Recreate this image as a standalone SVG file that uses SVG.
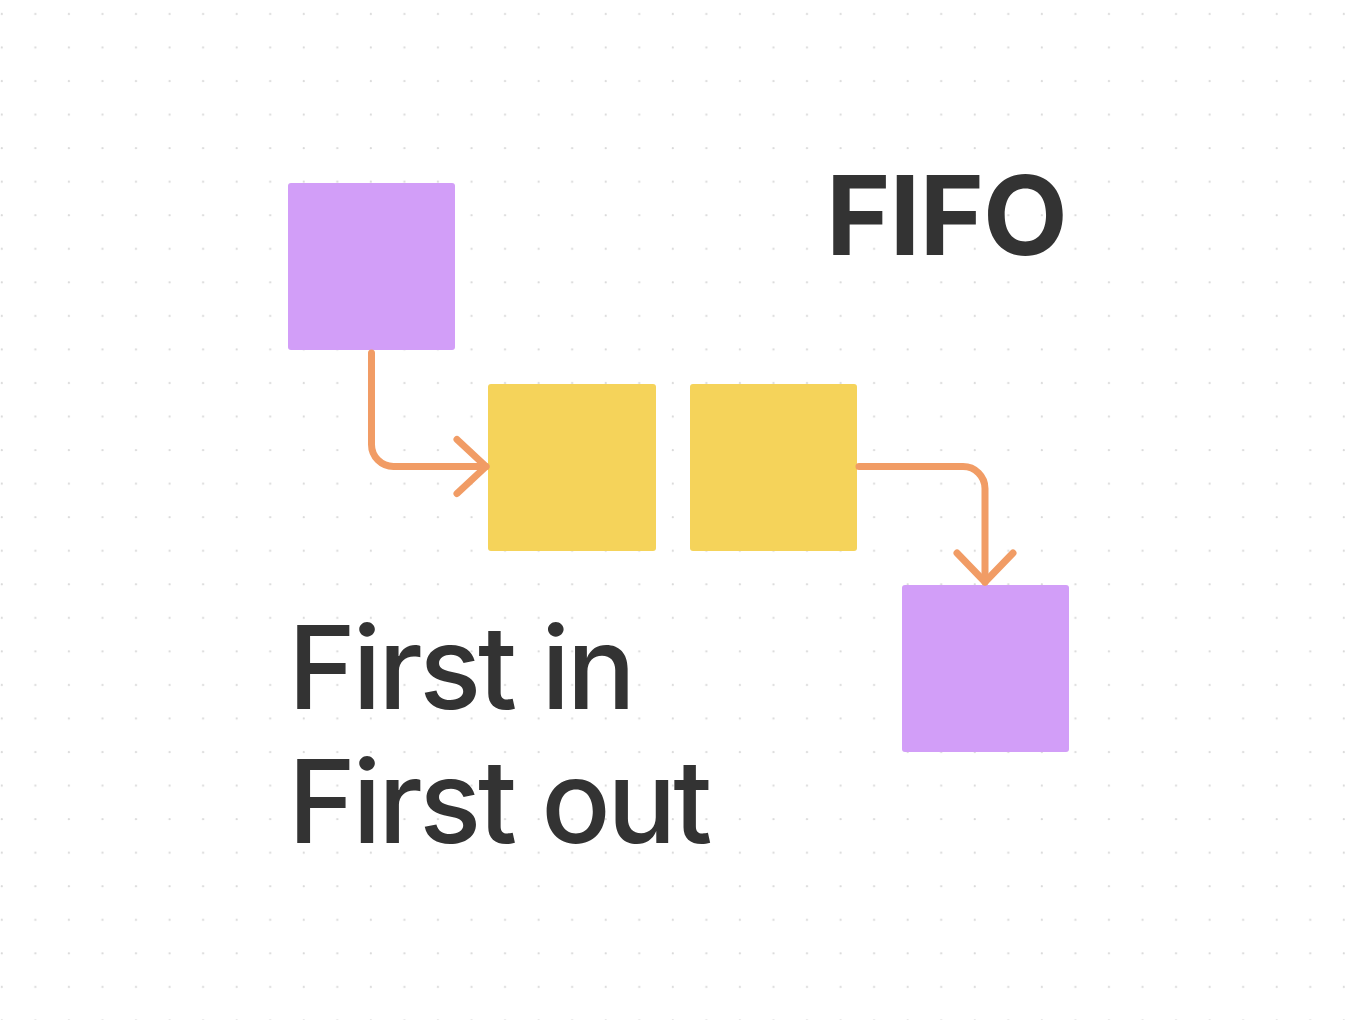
<svg xmlns="http://www.w3.org/2000/svg" width="1360" height="1020" viewBox="0 0 1360 1020">
  <defs>
    <pattern id="dots" x="0" y="0" width="33.55" height="33.55" patternUnits="userSpaceOnUse">
      <circle cx="1.8" cy="14" r="1.1" fill="#d9d9d9"/>
    </pattern>
  </defs>
  <style>
    .purple { fill: #D29EF8; }
    .yellow { fill: #F5D35A; }
    .conn { fill: none; stroke: #F19C65; stroke-width: 7; stroke-linecap: round; stroke-linejoin: round; }
    .title { font-family: Inter, "Liberation Sans", sans-serif; font-weight: 700; fill: #333333; letter-spacing: -1px; }
    .body { font-family: Inter, "Liberation Sans", sans-serif; font-weight: 500; fill: #333333; letter-spacing: -3.3px; }
  </style>
  <rect width="1360" height="1020" fill="#ffffff"/>
  <rect width="1360" height="1020" fill="url(#dots)"/>

  <g id="box-in">
    <rect class="purple" x="288" y="183" width="167" height="167" rx="3"/>
  </g>
  <g id="queue-1">
    <rect class="yellow" x="488" y="384" width="168" height="167" rx="3"/>
  </g>
  <g id="queue-2">
    <rect class="yellow" x="690" y="384" width="167" height="167" rx="3"/>
  </g>
  <g id="box-out">
    <rect class="purple" x="902" y="585" width="167" height="167" rx="3"/>
  </g>

  <g id="connectors">
    <path class="conn" d="M371.5,353 V444.5 A22,22 0 0 0 393.5,466.5 H486"/>
    <path class="conn" d="M457,439.5 L486,466.5 L457,493.5"/>
    <path class="conn" d="M859,466.5 H963 A22,22 0 0 1 985,488.5 V582"/>
    <path class="conn" d="M957,553 L985,582 L1013,553"/>
  </g>

  <g id="title">
    <text class="title" x="826" y="255" font-size="110">FIFO</text>
  </g>
  <g id="caption">
    <text class="body" x="288" y="709" font-size="115">First in</text>
    <text class="body" x="288" y="843" font-size="115">First out</text>
  </g>
</svg>
